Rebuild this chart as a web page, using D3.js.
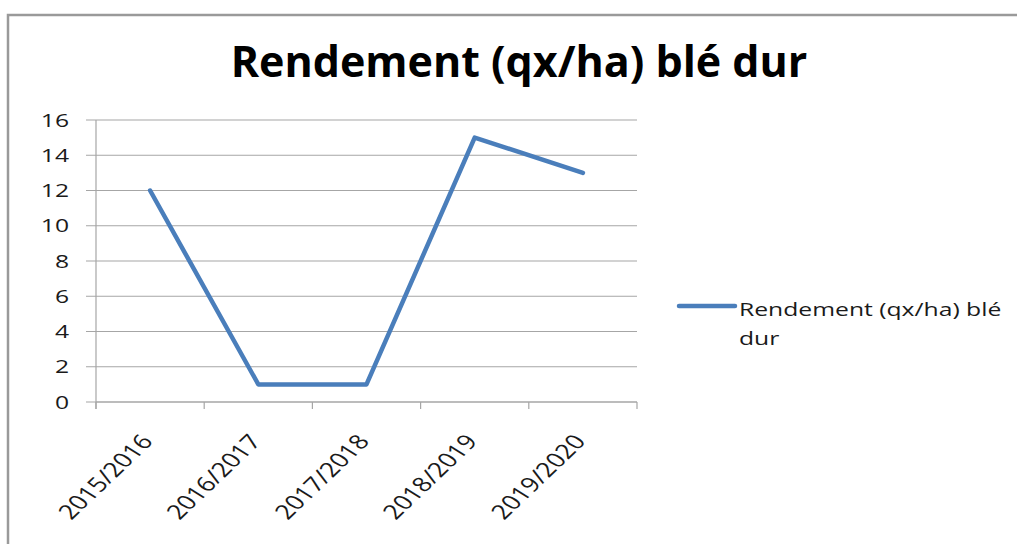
<!DOCTYPE html>
<html>
<head>
<meta charset="utf-8">
<script src="https://cdn.jsdelivr.net/npm/d3@7"></script>
<style>
  body { margin: 0; background: #fff; }
  text { font-family: "Open Sans", "Noto Sans", sans-serif; }
</style>
</head>
<body>
<div id="chart"></div>
<script>
// data
const seasons = ["2015/2016", "2016/2017", "2017/2018", "2018/2019", "2019/2020"]
const rendement = [12, 1, 1, 15, 13]
const yTicks = [0, 2, 4, 6, 8, 10, 12, 14, 16]
const title = "Rendement (qx/ha) blé dur"
const seriesName = "Rendement (qx/ha) blé dur"

const width = 1017
const height = 544
const lineColor = "#4a7ebb"
const stretch = 1.3 // the source picture is stretched sideways

const svg = d3.select("#chart")
  .append("svg")
  .attr("width", width)
  .attr("height", height)

// chart frame (runs off the right and bottom edges)
svg.append("rect")
  .attr("x", 8)
  .attr("y", 15)
  .attr("width", 1030)
  .attr("height", 560)
  .attr("fill", "none")
  .attr("stroke", "#9a9a9a")
  .attr("stroke-width", 2.5)

// title
svg.append("text")
  .attr("x", 519)
  .attr("y", 77)
  .attr("text-anchor", "middle")
  .style("font-size", "43px")
  .style("font-weight", "bold")
  .attr("fill", "#000")
  .text(title)

const plot = { left: 96, right: 637, top: 120, bottom: 402 }

const x = d3.scaleBand()
  .domain(seasons)
  .range([plot.left, plot.right])

const y = d3.scaleLinear()
  .domain([0, 16])
  .range([plot.bottom, plot.top])

// gridlines
svg.append("g")
  .selectAll("line")
  .data(yTicks)
  .enter()
  .append("line")
  .attr("x1", plot.left - 10)
  .attr("x2", plot.right)
  .attr("y1", d => y(d))
  .attr("y2", d => y(d))
  .attr("stroke", "#a6a6a6")
  .attr("stroke-width", 1.2)

// y axis line
svg.append("line")
  .attr("x1", plot.left)
  .attr("x2", plot.left)
  .attr("y1", plot.top)
  .attr("y2", plot.bottom + 7)
  .attr("stroke", "#a6a6a6")
  .attr("stroke-width", 1.2)

// y labels
svg.append("g")
  .selectAll("text")
  .data(yTicks)
  .enter()
  .append("text")
  .attr("text-anchor", "end")
  .attr("dy", "0.35em")
  .attr("transform", d => "translate(69," + y(d) + ") scale(" + stretch + ",1)")
  .style("font-size", "19px")
  .attr("fill", "#1a1a1a")
  .text(d => d)

// x axis with ticks on band edges
const xAxis = svg.append("g")
  .attr("transform", "translate(0," + plot.bottom + ")")
xAxis.append("line")
  .attr("x1", plot.left)
  .attr("x2", plot.right)
  .attr("stroke", "#a6a6a6")
  .attr("stroke-width", 1.2)
xAxis.selectAll(".edge")
  .data(seasons.map(s => x(s)).concat([plot.right]))
  .enter()
  .append("line")
  .attr("class", "edge")
  .attr("x1", d => d)
  .attr("x2", d => d)
  .attr("y1", 0)
  .attr("y2", 7)
  .attr("stroke", "#a6a6a6")
  .attr("stroke-width", 1.2)
xAxis.selectAll(".lbl")
  .data(seasons)
  .enter()
  .append("text")
  .attr("class", "lbl")
  .attr("text-anchor", "end")
  .attr("transform", d => "translate(" + (x(d) + x.bandwidth() / 2 + 4) + ",40) scale(" + stretch + ",1) rotate(-51)")
  .style("font-size", "20.5px")
  .attr("fill", "#1a1a1a")
  .text(d => d)

// the line
const line = d3.line()
  .x((d, i) => x(seasons[i]) + x.bandwidth() / 2)
  .y(d => y(d))

svg.append("path")
  .datum(rendement)
  .attr("d", line)
  .attr("fill", "none")
  .attr("stroke", lineColor)
  .attr("stroke-width", 4.5)
  .attr("stroke-linejoin", "round")
  .attr("stroke-linecap", "round")

// legend
svg.append("line")
  .attr("x1", 679)
  .attr("x2", 735)
  .attr("y1", 306)
  .attr("y2", 306)
  .attr("stroke", lineColor)
  .attr("stroke-width", 4.5)
  .attr("stroke-linecap", "round")

const words = seriesName.split(" ")
const leg = svg.append("text")
  .attr("transform", "translate(739,316) scale(" + stretch + ",1)")
  .style("font-size", "19px")
  .attr("fill", "#1a1a1a")
leg.append("tspan").attr("x", 0).text(words.slice(0, 3).join(" "))
leg.append("tspan").attr("x", 0).attr("dy", 29).text(words.slice(3).join(" "))
</script>
</body>
</html>
